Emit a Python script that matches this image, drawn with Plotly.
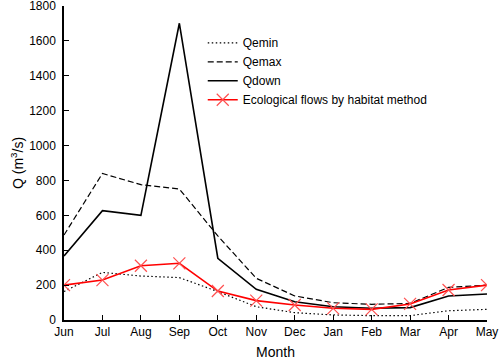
import plotly.graph_objects as go

months = ["Jun", "Jul", "Aug", "Sep", "Oct", "Nov", "Dec", "Jan", "Feb", "Mar", "Apr", "May"]
qemin = [163, 273, 252, 243, 163, 76, 42, 29, 25, 25, 53, 61]
qemax = [487, 840, 776, 751, 482, 239, 138, 99, 90, 95, 187, 200]
qdown = [367, 627, 600, 1701, 354, 176, 105, 76, 67, 71, 138, 149]
eco = [200, 229, 311, 325, 166, 111, 86, 67, 61, 92, 172, 200]

x = list(range(len(months)))
fig = go.Figure()
fig.add_trace(go.Scatter(x=x, y=qemin, name="Qemin", mode="lines",
                         line=dict(color="black", width=1.2, dash="1.5px,2.5px")))
fig.add_trace(go.Scatter(x=x, y=qemax, name="Qemax", mode="lines",
                         line=dict(color="black", width=1.2, dash="6px,3px")))
fig.add_trace(go.Scatter(x=x, y=qdown, name="Qdown", mode="lines",
                         line=dict(color="black", width=1.6)))
fig.add_trace(go.Scatter(x=x, y=eco, name="Ecological flows by habitat method", mode="lines+markers",
                         line=dict(color="red", width=1.6),
                         marker=dict(symbol="x-thin-open", size=12, color="#ff5050",
                                     line=dict(color="#ff5050", width=1.2))))

fig.update_layout(
    width=500, height=360,
    margin=dict(l=64, r=13, t=6, b=40, autoexpand=False),
    paper_bgcolor="white", plot_bgcolor="white",
    font=dict(family="Liberation Sans, Arial", size=12, color="black"),
    legend=dict(x=0.328, y=0.929, xanchor="left", yanchor="top", bgcolor="rgba(0,0,0,0)",
                font=dict(size=12), tracegroupgap=0),
    showlegend=True,
)
fig.update_xaxes(range=[0, 11], tickmode="array", tickvals=x, ticktext=months,
                 showgrid=False, zeroline=False, showline=True, linecolor="black", linewidth=1.5,
                 ticks="inside", ticklen=5, tickcolor="black", automargin=False,
                 ticklabeloverflow="allow",
                 title=dict(text="Month", font=dict(size=14), standoff=11))
fig.update_yaxes(range=[0, 1800], tickvals=list(range(0, 1801, 200)),
                 showgrid=False, zeroline=False, showline=True, linecolor="black", linewidth=1.5,
                 ticks="inside", ticklen=5, tickcolor="black", automargin=False,
                 ticklabeloverflow="allow", ticklabelstandoff=4,
                 title=dict(text="Q (m<sup>3</sup>/s)", font=dict(size=14), standoff=2))

fig.write_html("out.html", config={"displayModeBar": False},
               post_script="document.body.style.margin='0';")
